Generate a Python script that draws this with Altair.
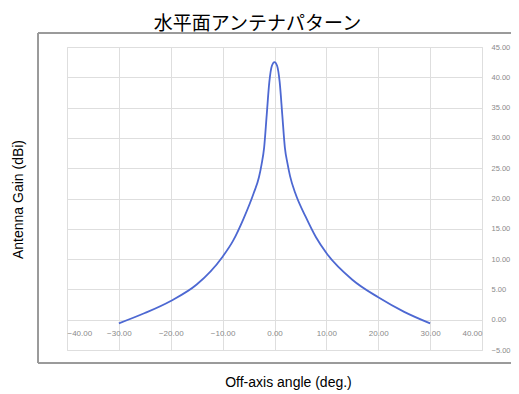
import altair as alt
import pandas as pd

# Off-axis angle (deg.) and antenna gain (dBi)
angles = [-30, -25, -20, -15, -10, -8, -6, -4, -3, -2.5, -2, -1.5, -1, -0.5, 0,
          0.5, 1, 1.5, 2, 2.5, 3, 4, 6, 8, 10, 15, 20, 25, 30]
gains = [-0.6, 1.1, 3.1, 5.8, 10.4, 13.0, 16.6, 20.9, 23.5, 25.6, 28.4, 33.8, 39.2, 41.9, 42.5,
         41.9, 39.2, 33.8, 28.4, 25.8, 23.7, 20.9, 17.0, 13.6, 11.0, 6.6, 3.7, 1.3, -0.6]

x_ticks = [-40, -30, -20, -10, 0, 10, 20, 30, 40]
y_ticks = [-5, 0, 5, 10, 15, 20, 25, 30, 35, 40, 45]

df = pd.DataFrame({"angle": angles, "gain": gains})

W, H = 415, 303
zero_offset = -H * 5 / 50  # x axis sits on the 0 dBi line

x_enc = alt.X(
    "angle:Q",
    scale=alt.Scale(domain=[-40, 40], nice=False),
    axis=alt.Axis(
        values=x_ticks, format=".2f", orient="bottom", offset=zero_offset,
        domain=False, ticks=False, labelPadding=10, labelFontSize=8,
        labelColor="#8a8a8a", labelFont="Liberation Sans",
        grid=True, gridColor="#dedede",
        title="Off-axis angle (deg.)", titleFontSize=14, titleFontWeight="normal",
        titleFont="Liberation Sans", titleColor="#000000",
        titleX=221, titleY=63, titleBaseline="middle",
    ),
)
y_enc = alt.Y(
    "gain:Q",
    scale=alt.Scale(domain=[-5, 45], nice=False),
    axis=alt.Axis(
        values=y_ticks, format=".2f", orient="right",
        domain=False, ticks=False, labelPadding=9, labelFontSize=7.5,
        labelColor="#8a8a8a", labelFont="Liberation Sans",
        grid=True, gridColor="#dedede",
        title="Antenna Gain (dBi)", titleFontSize=14, titleFontWeight="normal",
        titleFont="Liberation Sans", titleColor="#000000",
        titleAngle=270, titleX=-464, titleY=152, titleBaseline="middle",
    ),
)

frame = alt.Chart(df).mark_rect(
    fill=None, stroke="#9a9a9a", strokeWidth=1
).encode(
    x=alt.value(-29), x2=alt.value(470), y=alt.value(-14), y2=alt.value(316)
)

line = alt.Chart(df).mark_line(color="#4d68d2", strokeWidth=1.8, interpolate="monotone").encode(
    x=x_enc, y=y_enc
)

chart = alt.layer(line, frame).properties(
    width=W, height=H,
    title=alt.TitleParams(
        "水平面アンテナパターン", font="Noto Sans CJK JP", fontSize=19,
        fontWeight="normal", color="#000000", anchor="middle", dx=-17, offset=-1,
    ),
    autosize=alt.AutoSizeParams(type="none"),
    padding={"left": 59, "top": 39, "right": 29, "bottom": 40},
).configure_view(stroke="#cfcfcf", strokeWidth=1).configure(background="white")

chart.save("out.html", embed_options={"renderer": "svg", "actions": False})
